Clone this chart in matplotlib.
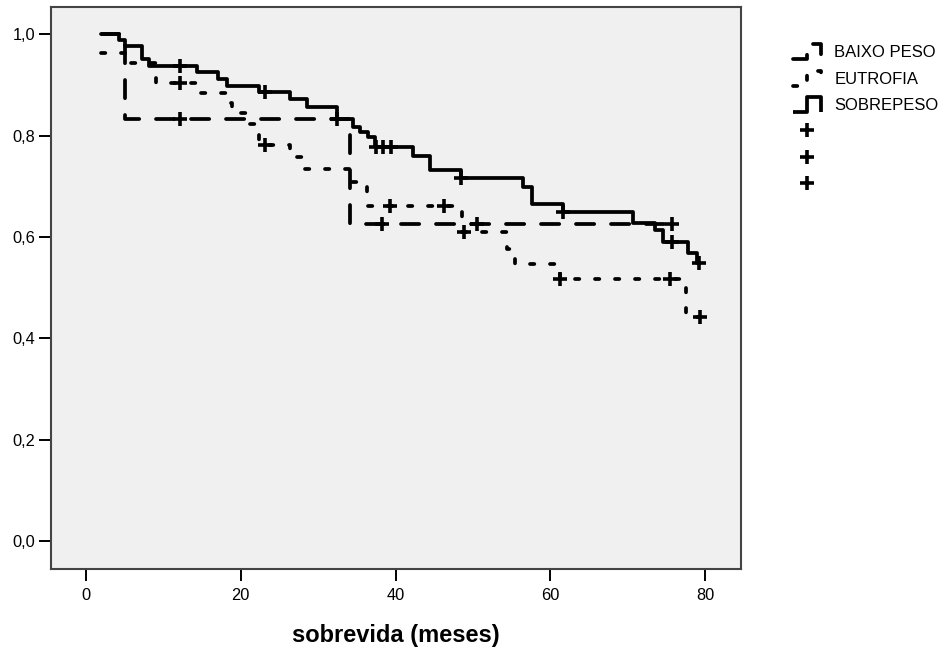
import numpy as np
import matplotlib
matplotlib.use("Agg")
import matplotlib.pyplot as plt
from matplotlib.lines import Line2D
from matplotlib.legend_handler import HandlerBase

plt.rcParams['font.family'] = ['Liberation Sans', 'DejaVu Sans']
plt.rcParams['lines.scale_dashes'] = False

# Kaplan-Meier curves (step times, survival after step)
baixo_t = [2.0, 5.0, 34.1]
baixo_s = [1.000, 0.833, 0.625]
baixo_end = 75.7
baixo_cens_t = [12.1, 32.4, 38.3, 50.5, 75.7]
baixo_cens_s = [0.833, 0.833, 0.625, 0.625, 0.625]

eutro_t = [2.0, 5.0, 9.1, 14.3, 18.2, 18.9, 21.2, 22.3, 26.4, 28.3, 34.3,
           36.3, 48.6, 54.4, 55.4, 61.3, 77.6]
eutro_s = [0.963, 0.943, 0.905, 0.885, 0.864, 0.844, 0.823, 0.782, 0.758,
           0.734, 0.709, 0.662, 0.610, 0.576, 0.547, 0.517, 0.443]
eutro_end = 79.3
eutro_cens_t = [12.1, 23.1, 39.3, 46.2, 48.9, 61.3, 75.5, 79.3]
eutro_cens_s = [0.905, 0.782, 0.662, 0.662, 0.610, 0.517, 0.517, 0.443]

sobre_t = [2.0, 4.3, 5.0, 7.2, 8.2, 14.3, 17.1, 18.2, 22.4, 26.4, 28.5, 32.5,
           34.5, 35.4, 36.4, 37.3, 42.3, 44.5, 48.5, 56.5, 57.6, 61.6, 70.7,
           73.5, 74.6, 77.8, 79.0]
sobre_s = [1.000, 0.989, 0.977, 0.951, 0.938, 0.925, 0.911, 0.898, 0.886,
           0.872, 0.857, 0.833, 0.818, 0.808, 0.798, 0.777, 0.759, 0.733,
           0.716, 0.698, 0.665, 0.649, 0.628, 0.614, 0.591, 0.569, 0.548]
sobre_end = 79.2
sobre_cens_t = [12.1, 23.1, 37.5, 38.4, 39.4, 48.5, 61.6, 75.7, 79.2]
sobre_cens_s = [0.938, 0.886, 0.777, 0.777, 0.777, 0.716, 0.649, 0.591, 0.548]

labels = ['BAIXO PESO', 'EUTROFIA', 'SOBREPESO']
xticks = [0, 20, 40, 60, 80]
yticks = [0.0, 0.2, 0.4, 0.6, 0.8, 1.0]

LW = 2.7
styles = [dict(dashes=(13.1, 12.1), dash_capstyle='round'),
          dict(dashes=(3.1, 11.3), dash_capstyle='round'),
          dict(linestyle='-', solid_capstyle='butt')]


class StepHandler(HandlerBase):
    # small step glyph like the SPSS legend
    def create_artists(self, legend, orig_handle, xdescent, ydescent,
                       width, height, fontsize, trans):
        xs = np.array([0.0, 0.5, 0.5, 1.0, 1.0]) * width - xdescent
        ys = np.array([0.0, 0.0, 1.0, 1.0, 0.0]) * height - ydescent
        line = Line2D(xs, ys)
        self.update_prop(line, orig_handle, legend)
        line.set_transform(trans)
        return [line]


fig = plt.figure(figsize=(9.47, 6.49), dpi=100)
ax = fig.add_axes([0.0539, 0.1233, 0.7286, 0.8659])
ax.set_facecolor('#f0f0f0')

curves = [(baixo_t, baixo_s, baixo_end, baixo_cens_t, baixo_cens_s),
          (eutro_t, eutro_s, eutro_end, eutro_cens_t, eutro_cens_s),
          (sobre_t, sobre_s, sobre_end, sobre_cens_t, sobre_cens_s)]

handles = []
for (t, s, end, ct, cs), st, lab in zip(curves, styles, labels):
    tt = np.append(t, end)
    ss = np.append(s, s[-1])
    ln, = ax.step(tt, ss, where='post', color='black', lw=LW, **st)
    handles.append(ln)

cens_handles = []
for (t, s, end, ct, cs) in curves:
    m, = ax.plot(ct, cs, linestyle='none', marker='+', color='black',
                 markersize=10, markeredgewidth=2.6)
    cens_handles.append(m)

ax.set_xlim(-4.52, 84.65)
ax.set_ylim(-0.055, 1.054)
ax.set_xticks(xticks)
ax.set_yticks(yticks)
ax.set_yticklabels([f'{v:.1f}'.replace('.', ',') for v in yticks])
ax.tick_params(axis='both', direction='out', length=8.6, width=1.4,
               color='black', labelsize=11.8)
ax.tick_params(axis='x', pad=5)
ax.tick_params(axis='y', pad=2.8)
for sp in ax.spines.values():
    sp.set_linewidth(1.5)
    sp.set_color('#444444')

ax.set_xlabel('sobrevida (meses)', fontsize=17, fontweight='bold', labelpad=15)

hmap = {h: StepHandler() for h in handles}
fig.legend(handles + cens_handles, labels + ['', '', ''],
           loc='upper left', bbox_to_anchor=(0.8375, 0.932),
           frameon=False, fontsize=12, handlelength=1.65, handleheight=1.0,
           handletextpad=0.82, labelspacing=0.62, borderpad=0,
           borderaxespad=0, handler_map=hmap)

fig.savefig('out.png', dpi=100)
